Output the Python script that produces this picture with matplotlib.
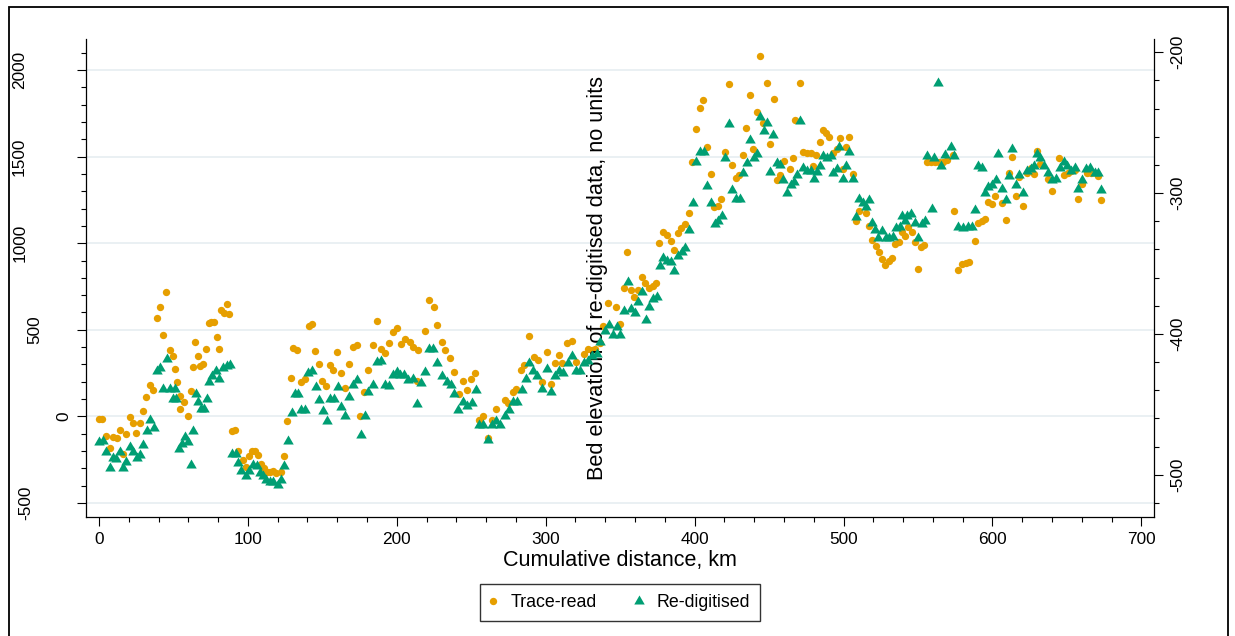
import matplotlib
matplotlib.use("Agg")
import matplotlib.pyplot as plt
import matplotlib.transforms as mtransforms
from matplotlib.ticker import MultipleLocator
from matplotlib.patches import Rectangle
from matplotlib.lines import Line2D

plt.rcParams['font.family'] = ['Liberation Sans', 'DejaVu Sans']
plt.rcParams['axes.unicode_minus'] = False

# ---------------- data ----------------
trace_km = [0, 2, 4.7, 7.4, 9.2, 11.9, 14.1, 16.3, 18.3, 20.8, 22.8, 24.8, 27.3, 29.6, 31.8, 34.3, 36.3,
            38.7, 40.8, 43, 45.2, 47.7, 49.5, 51.3, 52.2, 54.4, 54.6, 57.3, 59.5, 61.6, 62.9, 64.7, 66.7,
            68, 69.8, 71.9, 73.7, 75.4, 77.4, 79, 80.6, 82.1, 84.2, 86, 87.5, 89.5, 91.5, 93.4, 96.9,
            98.7, 100.7, 102.8, 105, 106.6, 108.8, 111, 112.8, 114.8, 116.9, 118.9, 122.4, 124.4, 126.5,
            128.7, 130.5, 133, 135.7, 138.1, 140.8, 142.8, 145.3, 147.7, 150, 152.6, 154.9, 157.4, 160,
            162.7, 165.2, 167.9, 170.4, 173, 175.5, 178, 180.9, 183.8, 186.5, 189.2, 192.3, 194.6, 197.2,
            199.9, 202.6, 205.3, 208.7, 210.9, 213.5, 214.4, 219.2, 221.6, 224.8, 227.2, 230.2, 232.4,
            235.7, 238.6, 241.8, 244.2, 247.3, 250, 252.5, 255.4, 258, 261, 263.7, 266.6, 272.7, 275,
            277.8, 280, 283.6, 285.6, 289, 292.1, 294.8, 297.7, 300.7, 303.6, 306.2, 308.9, 311.1, 314,
            317.5, 320.3, 325.7, 328.2, 330.9, 333.3, 336.5, 338.7, 342, 347.2, 349.9, 352.6, 354.8,
            357.3, 359.5, 361.8, 364.5, 366.7, 369.4, 371.8, 374.3, 376.3, 379, 381.6, 383.9, 386.3,
            388.6, 391.1, 393.7, 396.2, 398.3, 400.9, 403.4, 405.8, 408.3, 410.8, 413.3, 415.7, 418,
            420.6, 423.1, 425.4, 427.6, 430, 432.5, 434.7, 437.2, 439.5, 441.7, 443.9, 446.2, 448.6,
            450.9, 453.1, 455.3, 457.4, 459.8, 464.3, 466.1, 467.4, 470.8, 473, 475.2, 477.9, 479.7,
            481.5, 484.2, 486, 488.2, 490.5, 493.2, 495.4, 497.4, 499.4, 501.7, 503.9, 506.2, 508.6,
            510.4, 515.1, 517.1, 519.4, 521.6, 523.6, 525.9, 528.1, 530.4, 532.6, 534.8, 537.1, 539.1,
            541.3, 543.5, 545.8, 548, 550, 552, 554.2, 555.9, 558.8, 561.5, 564.1, 567, 569.3, 573.3,
            574.4, 576.7, 579.4, 582.1, 584.5, 588.3, 590.5, 592.8, 595, 596.8, 599.5, 601.7, 606.2,
            608.9, 611.1, 613.4, 615.6, 617.9, 620.3, 623, 625.8, 628.2, 629.7, 632, 637.1, 640.2,
            644.9, 648.1, 650.6, 652.8, 655.5, 657.7, 660.4, 663.3, 666.2, 670.7, 672.9]
trace_elev = [-15, -13, -111, -181, -119, -123, -81, -217, -100, -4, -40, -98, -36, 31, 110, 181, 154,
              569, 629, 470, 721, 385, 350, 271, 198, 115, 40, 85, 0, 144, 285, 429, 350,
              291, 300, 389, 542, 545, 545, 460, 389, 614, 596, 650, 589, -84, -81, -198, -254,
              -294, -231, -198, -198, -223, -277, -298, -321, -321, -315, -327, -319, -227, -25,
              221, 394, 381, 200, 216, 519, 531, 375, 304, 202, 173, 294, 269, 371,
              252, 162, 302, 400, 414, 0, 142, 265, 414, 550, 387, 366, 423, 487,
              512, 418, 447, 431, 398, 206, 385, 491, 673, 629, 529, 429, 385,
              337, 258, 129, 206, 150, 217, 250, -19, 0, -125, -19, 43, 92, 80,
              141, 158, 265, 296, 462, 343, 327, 200, 369, 189, 308, 356, 308, 423,
              437, 312, 362, 391, 385, 391, 423, 523, 654, 631, 535, 741, 950,
              727, 692, 727, 804, 773, 741, 750, 770, 1000, 1064, 1047, 1015, 958,
              1058, 1085, 1110, 1173, 1471, 1660, 1781, 1829, 1554, 1402, 1211, 1217, 1254,
              1527, 1917, 1454, 1379, 1393, 1508, 1667, 1855, 1546, 1758, 2083, 1693, 1927,
              1573, 1835, 1362, 1395, 1477, 1431, 1492, 1712, 1927, 1529, 1523, 1520, 1448,
              1510, 1587, 1654, 1638, 1615, 1520, 1543, 1606, 1427, 1554, 1612, 1398, 1129,
              1183, 1173, 1100, 1019, 985, 948, 911, 873, 896, 914, 996, 1006, 1062,
              1044, 1096, 1062, 1006, 850, 977, 991, 1471, 1468, 1468, 1468, 1466, 1481, 1510,
              1187, 846, 879, 888, 894, 1010, 1119, 1129, 1141, 1237, 1227, 1275, 1231,
              1135, 1404, 1500, 1275, 1381, 1217, 1404, 1433, 1398, 1535, 1458, 1369, 1302,
              1491, 1394, 1408, 1419, 1423, 1254, 1341, 1404, 1408, 1389, 1250]

redig_km = [0, 2.5, 4.7, 7.1, 9.1, 11.6, 14.1, 16.1, 18.3, 20.8, 22.8, 25.3, 27.5, 29.8, 32, 34.2, 36.7,
            38.7, 40.9, 42.8, 45.5, 47.7, 49.5, 51.3, 51.7, 53.9, 55.9, 57.8, 60, 61.6, 62.9, 65.1,
            66.7, 68.5, 70.5, 72.3, 73.7, 75.6, 78.4, 80.8, 83.5, 85.8, 88, 89.5, 92, 93.4, 95.1,
            98.7, 100.9, 103.6, 105.9, 108.1, 110.4, 112.2, 114.8, 117.1, 120, 122.2, 124.4, 126.9,
            129.4, 131.4, 133.4, 135.7, 138.1, 140.6, 143.2, 145.5, 147.7, 150.2, 152.9, 155.1, 157.8,
            160.3, 162.7, 165.2, 167.9, 170.4, 173, 175.8, 178.7, 180.9, 183.8, 186.5, 189.2, 192.1,
            194.8, 197.2, 199.9, 202.1, 205, 207.7, 210.6, 213.8, 216.3, 219.2, 221.6, 224.5, 227.2,
            230.2, 233.9, 236.4, 238.4, 241.3, 244.2, 247.3, 250.3, 253, 255.4, 258.1, 261, 263.7,
            266.6, 269.3, 272.7, 275.3, 278.3, 280.9, 283.9, 286.6, 289, 291.7, 294.4, 297.7, 300.7,
            303.6, 306.2, 308.9, 311.8, 314.8, 317.5, 320.3, 323, 325.7, 328.6, 331.3, 334.2, 336.5,
            339.8, 342.5, 345.4, 347.6, 349.9, 352.8, 355.1, 357.3, 360, 362.2, 364.5, 367.2, 369.6,
            372.3, 374.6, 376.8, 379, 381.3, 384, 386.3, 389.1, 391.5, 393.8, 396.2, 398.7, 400.9,
            403.8, 406.3, 408.3, 410.8, 413.5, 415.9, 418.2, 420.4, 423.1, 424.9, 427.6, 430.3, 432.5,
            435, 437.2, 439.7, 441.9, 443.9, 446.4, 448.8, 450.9, 452.9, 455.3, 457.4, 459.6, 461.9,
            464.5, 466.7, 468.6, 470.8, 473, 475.7, 477.9, 480.1, 481.9, 484.2, 486.4, 489.1, 491.4,
            493.2, 495.4, 497.2, 499.4, 501.7, 503.9, 506.2, 508.4, 510.6, 512.8, 515.1, 517.3, 518.9,
            521.2, 523.4, 526, 528.5, 530.7, 533, 535.3, 537.9, 539, 541.3, 542.5, 545.2, 548, 549.8,
            552.5, 554.8, 556.2, 559.3, 560.6, 563.3, 565.5, 568.3, 572.4, 574.4, 577, 580.3, 583.5,
            586, 588.3, 590.5, 592.8, 595, 597.2, 599.5, 602.2, 604, 606.2, 608.9, 611.1, 613.4,
            615.8, 618.1, 620.3, 623, 625.8, 628.2, 629.7, 632, 634.5, 637.1, 640.2, 642.5, 645.4,
            647.9, 650.1, 652.8, 655.5, 657.7, 660.4, 662.7, 665.5, 668.9, 671.1, 672.9]
redig_elev = [-477, -476, -484, -495, -488, -489, -484, -495, -491, -480, -484, -488, -486, -479, -469,
              -461, -467, -426, -424, -439, -418, -439, -446, -439, -446, -482, -478, -473, -477, -493,
              -469, -443, -448, -453, -453, -446, -434, -430, -426, -432, -424, -423, -422, -485, -485,
              -492, -497, -501, -497, -493, -494, -499, -501, -504, -505, -505, -507, -504, -494, -476,
              -456, -443, -443, -454, -454, -428, -426, -438, -447, -455, -462, -446, -446, -438, -452,
              -458, -445, -436, -433, -472, -458, -441, -436, -420, -419, -436, -437, -429, -427, -429,
              -429, -433, -432, -450, -435, -427, -411, -411, -421, -430, -434, -436, -443, -454, -448,
              -451, -449, -440, -465, -465, -475, -465, -462, -465, -458, -454, -448, -448, -440, -432,
              -421, -426, -430, -439, -425, -441, -430, -426, -428, -421, -416, -426, -426, -421, -419,
              -416, -414, -406, -398, -394, -401, -395, -401, -384, -363, -382, -385, -377, -370, -390,
              -381, -375, -374, -352, -346, -348, -349, -355, -345, -342, -339, -326, -307, -278, -271,
              -271, -295, -307, -322, -320, -316, -275, -251, -298, -304, -304, -286, -279, -262, -275,
              -272, -246, -256, -250, -285, -259, -279, -280, -291, -300, -294, -292, -287, -249, -282,
              -284, -284, -290, -285, -281, -274, -275, -274, -286, -283, -267, -290, -281, -271, -290,
              -317, -304, -307, -310, -305, -321, -326, -332, -327, -332, -332, -331, -325, -324, -316,
              -320, -316, -315, -321, -332, -322, -320, -274, -311, -275, -222, -281, -273, -267, -274,
              -324, -325, -324, -324, -312, -281, -282, -300, -296, -294, -291, -272, -297, -305, -288,
              -269, -294, -287, -300, -284, -283, -281, -272, -275, -281, -286, -291, -290, -282, -278,
              -281, -284, -282, -297, -291, -283, -282, -286, -286, -298]

x_ticks = [0, 100, 200, 300, 400, 500, 600, 700]
left_ticks = [-500, 0, 500, 1000, 1500, 2000]
right_ticks = [-500, -400, -300, -200]
series_labels = ['Trace-read', 'Re-digitised']
x_label = 'Cumulative distance, km'
y2_label = 'Bed elevation of re-digitised data, no units'

# ---------------- style ----------------
ORANGE = '#E69F00'
GREEN = '#009E73'
GRID = '#e8eff2'
W, H = 1235, 636

fig = plt.figure(figsize=(W / 100, H / 100), dpi=100)
fig.patch.set_facecolor('white')

ax_left, ax_right, ax_top, ax_bot = 86, 1154.3, 39, 517
ax = fig.add_axes([ax_left / W, 1 - ax_bot / H, (ax_right - ax_left) / W, (ax_bot - ax_top) / H])
ax2 = ax.twinx()

ax.scatter(trace_km, trace_elev, s=28, marker='o', color=ORANGE, linewidths=0, zorder=2)
ax2.scatter(redig_km, redig_elev, s=76, marker=(3, 0, 0), color=GREEN, linewidths=0, zorder=2)

ax.set_xlim(-8.7, 708.7)
ax.set_ylim(-581, 2179)
ax2.set_ylim(-530, -190.6)

for a in (ax, ax2):
    a.spines['top'].set_visible(False)
ax.spines['right'].set_visible(False)
ax2.spines['left'].set_visible(False)
ax2.spines['bottom'].set_visible(False)
for sp in (ax.spines['left'], ax.spines['bottom'], ax2.spines['right']):
    sp.set_linewidth(0.9)

ax.set_xticks(x_ticks)
ax.xaxis.set_minor_locator(MultipleLocator(20))
ax.set_yticks(left_ticks)
ax.yaxis.set_minor_locator(MultipleLocator(100))
ax2.set_yticks(right_ticks)
ax2.yaxis.set_minor_locator(MultipleLocator(20))

ax.tick_params(axis='both', which='major', length=6.6, width=0.8, direction='out')
ax.tick_params(axis='both', which='minor', length=3.4, width=0.8, direction='out')
ax.tick_params(axis='x', labelsize=12.4, pad=3.9)
ax.tick_params(axis='y', labelleft=False)
ax2.tick_params(axis='y', which='major', length=6.6, width=0.8, direction='out',
                labelsize=12.4, labelrotation=90, pad=5.0)
ax2.tick_params(axis='y', which='minor', length=3.4, width=0.8, direction='out')
for lab in ax2.get_yticklabels():
    lab.set_va('center')

ax.yaxis.grid(True, which='major', color=GRID, linewidth=1.3)
ax.set_axisbelow(True)

# left tick labels, Stata-like rotated placement
renderer = fig.canvas.get_renderer()
ltrans = mtransforms.blended_transform_factory(mtransforms.IdentityTransform(), ax.transData)
for v in left_ticks:
    t = ax.text(0, v, str(v), transform=ltrans, rotation=90, ha='center', va='center',
                fontsize=12.4, clip_on=False)
    w = t.get_window_extent(renderer).height
    t.set_x(79 - 1.55 * w)

ax.set_xlabel(x_label, fontsize=15.5, va='center')
ax.xaxis.set_label_coords(0.5, (ax_bot - 560.5) / (ax_bot - ax_top))
ax2.set_ylabel(y2_label, fontsize=15.7, rotation=90, va='center', ha='center')
ax2.yaxis.set_label_coords((598 - ax_left) / (ax_right - ax_left), 0.5)

handles = [Line2D([], [], linestyle='none', marker='o', markersize=5.3, color=ORANGE, markeredgewidth=0),
           Line2D([], [], linestyle='none', marker=(3, 0, 0), markersize=8.7, color=GREEN, markeredgewidth=0)]
leg = fig.legend(handles, series_labels, loc='center', bbox_to_anchor=(620 / W, 1 - 602.5 / H),
                 ncol=2, frameon=True, fancybox=False, edgecolor='black', fontsize=12.8,
                 handlelength=0.3, handletextpad=0.85, columnspacing=2.2, borderpad=0.55,
                 borderaxespad=0)
leg.get_frame().set_linewidth(1.0)

frame = Rectangle((9 / W, -0.1), (1228 - 9) / W, 1 - 7 / H + 0.1, transform=fig.transFigure,
                  fill=False, edgecolor='black', linewidth=1.3, clip_on=False)
fig.add_artist(frame)

fig.savefig('out.png', dpi=100, facecolor='white')
